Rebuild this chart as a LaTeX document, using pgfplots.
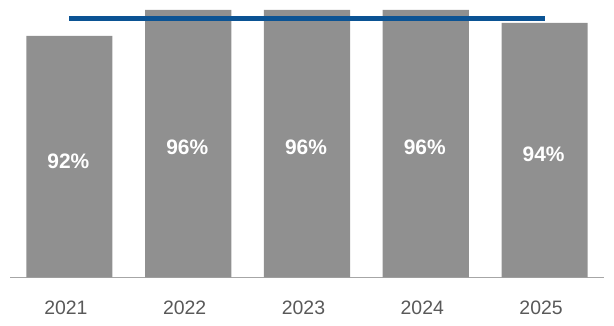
\documentclass[border=0pt]{standalone}
\usepackage{pgfplots}
\pgfplotsset{compat=1.18}
\usepackage{fontspec}
\setmainfont{Liberation Sans}
\definecolor{bargray}{HTML}{909090}
\definecolor{lineblue}{HTML}{0B5394}
\definecolor{basegray}{HTML}{A6A6A6}
\definecolor{labgray}{HTML}{595959}
\begin{document}
\begin{tikzpicture}
\useasboundingbox (-10bp,-48.7bp) rectangle (604bp,277.3bp);
\begin{axis}[
  at={(0,0)}, anchor=south west,
  scale only axis,
  width=594bp, height=277.3bp,
  xmin=-0.5, xmax=4.5,
  ymin=55, ymax=97.5,
  axis x line*=bottom,
  axis y line=none,
  x axis line style={draw=basegray, line width=1.5bp, -},
  xtick={0,1,2,3,4},
  xticklabels={2021,2022,2023,2024,2025},
  major tick length=0pt,
  xticklabel style={font=\fontsize{19.5}{23}\selectfont, text=labgray, yshift=-20bp, xshift=-3.5bp},
  clip=false,
]
\addplot[ybar, bar width=0.725, bar shift=0pt, fill=bargray, draw=none]
  coordinates {(0,92) (1,96) (2,96) (3,96) (4,94)};
\addplot[lineblue, line width=5bp]
  coordinates {(0,94.7) (4,94.7)};
\addplot[only marks, mark=none,
  nodes near coords, point meta=explicit symbolic,
  every node near coord/.append style={anchor=center, text=white, xshift=-1bp,
    font=\fontsize{21}{24}\selectfont\bfseries}]
  table[meta=label] {
x y label
0 72.8 92\%
1 75.0 96\%
2 75.0 96\%
3 75.0 96\%
4 73.9 94\%
};
\end{axis}
\end{tikzpicture}
\end{document}
